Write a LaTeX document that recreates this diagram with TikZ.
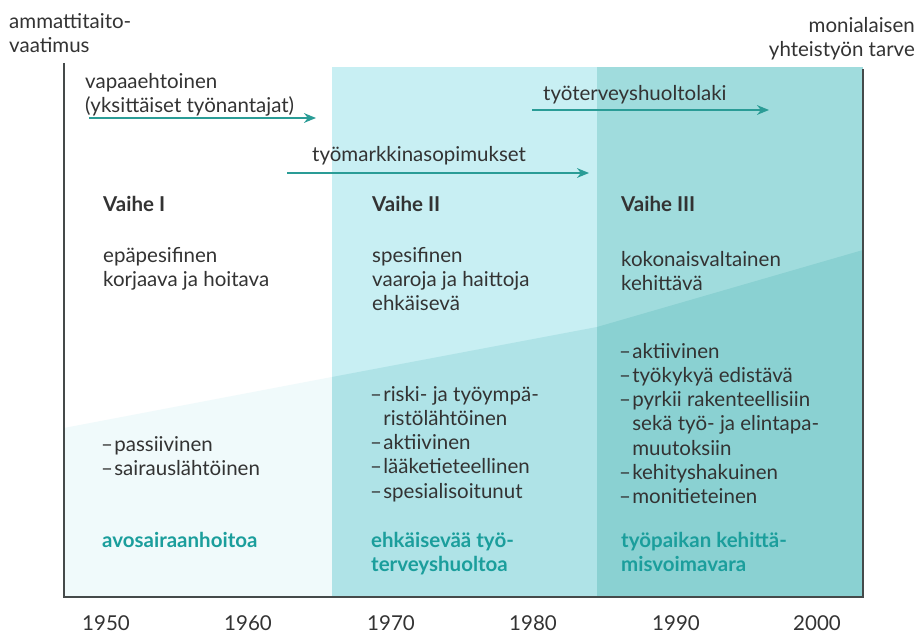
\documentclass[tikz,border=0pt]{standalone}
\usepackage{fontspec}
\setmainfont{Lato}
\usepackage{tikz}
\usetikzlibrary{arrows.meta, positioning}

\definecolor{tealtxt}{HTML}{1B9E9C}
\definecolor{arrowcol}{HTML}{2A9C96}
\definecolor{colAtop}{HTML}{FFFFFF}
\definecolor{colAbot}{HTML}{F0FAFB}
\definecolor{colBtop}{HTML}{C8EFF3}
\definecolor{colBbot}{HTML}{AFE3E7}
\definecolor{colCtop}{HTML}{A0DCDD}
\definecolor{colCbot}{HTML}{8AD1D2}
\definecolor{axiscol}{HTML}{454A4A}

\newcommand{\dsh}{\makebox[0.64em][l]{–}}
\newcommand{\ind}{\hspace*{0.64em}}

\begin{document}
\begin{tikzpicture}[
    x=1pt, y=-1pt,
    font=\fontsize{20.5}{24.2}\selectfont,
    txt/.style={anchor=north west, align=left, inner sep=0pt, text=black!80},
    phase/.style={txt, font=\fontsize{20.5}{24.2}\selectfont\bfseries},
    result/.style={txt, text=tealtxt, font=\fontsize{20.5}{24.5}\selectfont\bfseries},
    year/.style={inner sep=0pt, text=black!80},
    law/.style={-{Stealth[length=4.2mm,width=3.4mm]}, line width=2.6pt, color=arrowcol},
    axis/.style={line width=2.2pt, color=axiscol}
]
\useasboundingbox (0,0) rectangle (919,634);

% taustat
\fill[colAtop] (64,65) rectangle (332,597);
\fill[colAbot] (64,428) -- (332,377) -- (332,597) -- (64,597) -- cycle;
\fill[colBtop] (332,67) rectangle (597,597);
\fill[colBbot] (332,377) -- (597,327) -- (597,597) -- (332,597) -- cycle;
\fill[colCtop] (597,67) rectangle (863,597);
\fill[colCbot] (597,327) -- (863,250) -- (863,597) -- (597,597) -- cycle;

% akselit
\draw[axis] (64,63) -- (64,597) -- (863,597) -- (863,69);

% akselien otsikot
\node (skill) [txt] at (9,13) {ammattitaito-\\vaatimus};
\node (coop) [txt, anchor=north east, align=right] at (915,17) {monialaisen\\yhteistyön tarve};

% lait ja sopimukset
\node (vol) [txt] at (85,73) {vapaaehtoinen\\(yksittäiset työnantajat)};
\coordinate (vols) at (89,118);
\coordinate (vole) at (316,118);
\draw[law] (vols) -- (vole);

\node (law) [txt] at (543,85) {työterveyshuoltolaki};
\coordinate (laws) at (532,110);
\coordinate (lawe) at (769,110);
\draw[law] (laws) -- (lawe);

\node (agr) [txt] at (312,146) {työmarkkinasopimukset};
\coordinate (agrs) at (287,173);
\coordinate (agre) at (589,173);
\draw[law] (agrs) -- (agre);

% vaiheet
\node (ph1) [phase] at (103,196) {Vaihe I};
\node (ph2) [phase] at (372,196) {Vaihe II};
\node (ph3) [phase] at (621,196) {Vaihe III};

\node (d1) [txt] at (103,247) {epäpesifinen\\korjaava ja hoitava};
\node (d2) [txt] at (372,247) {spesifinen\\vaaroja ja haittoja\\ehkäisevä};
\node (d3) [txt] at (621,251) {kokonaisvaltainen\\kehittävä};

\node (l1) [txt] at (101,436) {\dsh passiivinen\\\dsh sairauslähtöinen};
\node (l2) [txt] at (370,386) {\dsh riski- ja työympä-\\\ind ristölähtöinen\\\dsh aktiivinen\\\dsh lääketieteellinen\\\dsh spesialisoitunut};
\node (l3) [txt] at (619,343) {\dsh aktiivinen\\\dsh työkykyä edistävä\\\dsh pyrkii rakenteellisiin\\\ind sekä työ- ja elintapa-\\\ind muutoksiin\\\dsh kehityshakuinen\\\dsh monitieteinen};

\node (r1) [result] at (102,532) {avosairaanhoitoa};
\node (r2) [result] at (371,532) {ehkäisevää työ-\\terveyshuoltoa};
\node (r3) [result] at (621,532) {työpaikan kehittä-\\misvoimavara};

% vuodet
\foreach \yr/\xx in {1950/106, 1960/248, 1970/391, 1980/533, 1990/676, 2000/817}
    \node (y\yr) [year] at (\xx,623) {\yr};
\end{tikzpicture}
\end{document}
